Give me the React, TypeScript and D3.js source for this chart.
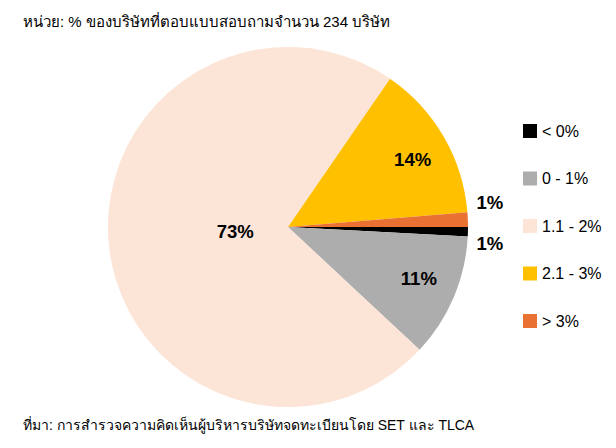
import React from "react";
import * as d3 from "d3";

const categories = ["< 0%", "0 - 1%", "1.1 - 2%", "2.1 - 3%", "> 3%"];
const values = [0.85, 11.1, 72.6, 14.1, 1.3];
const valueLabels = ["1%", "11%", "73%", "14%", "1%"];
const colors = ["#000000", "#ADADAD", "#FCE4D6", "#FFC000", "#E97132"];

const title = "หน่วย: % ของบริษัทที่ตอบแบบสอบถามจำนวน 234 บริษัท";
const source = "ที่มา: การสำรวจความคิดเห็นผู้บริหารบริษัทจดทะเบียนโดย SET และ TLCA";

const W = 616, H = 448;
const cx = 288, cy = 227, R = 180;
const FONT = "Helvetica, Arial, 'Liberation Sans', 'Noto Sans', sans-serif";

export default function App() {
  const pie = d3.pie<number>().sort(null).startAngle(Math.PI / 2).endAngle(Math.PI / 2 + 2 * Math.PI);
  const arcs = pie(values);
  const arc = d3.arc<d3.PieArcDatum<number>>().innerRadius(0).outerRadius(R);
  const labelR = [R + 22, R * 0.79, R * 0.295, R * 0.8, R + 22];
  const labelNudgeY = [11, -4, -1, 5, -16];
  const legendY = d3.scaleLinear().domain([0, categories.length - 1]).range([131, 321]);
  return (
    <svg width={W} height={H} style={{ position: "absolute", left: 0, top: 0, background: "#fff" }}>
      <rect width={W} height={H} fill="#fff" />
      <text x={23} y={27} fontSize={15} fontFamily={FONT} fill="#000">{title}</text>
      <g transform={`translate(${cx},${cy})`}>
        {arcs.map((a, i) => (
          <path key={i} d={arc(a) || ""} fill={colors[i]} />
        ))}
        {arcs.map((a, i) => {
          const la = d3.arc<d3.PieArcDatum<number>>().innerRadius(labelR[i]).outerRadius(labelR[i]);
          const [x, y] = la.centroid(a);
          return (
            <text key={i} x={x} y={y + labelNudgeY[i]} dy="0.35em" textAnchor="middle" fontSize={18.5} fontWeight="bold" fontFamily={FONT} fill="#000">
              {valueLabels[i]}
            </text>
          );
        })}
      </g>
      {categories.map((c, i) => (
        <g key={i} transform={`translate(523,${legendY(i)})`}>
          <rect x={0} y={-7} width={14} height={14} fill={colors[i]} />
          <text x={19} y={0} dy="0.36em" fontSize={16} fontFamily={FONT} fill="#000">{c}</text>
        </g>
      ))}
      <text x={23} y={430} fontSize={14} fontFamily={FONT} fill="#000">{source}</text>
    </svg>
  );
}
